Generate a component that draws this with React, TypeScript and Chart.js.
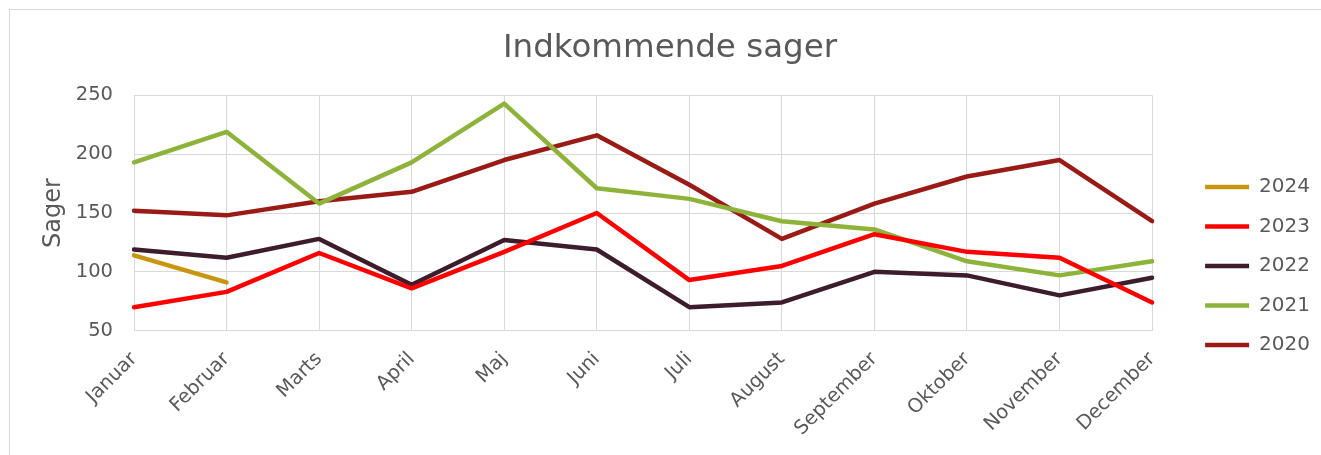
import React, { useEffect, useRef } from "react";
import { Chart, registerables } from "chart.js";

Chart.register(...registerables);

const months = [
  "Januar", "Februar", "Marts", "April", "Maj", "Juni",
  "Juli", "August", "September", "Oktober", "November", "December",
];

const series2024 = [114, 91];
const series2023 = [70, 83, 116, 86, 117, 150, 93, 105, 132, 117, 112, 74];
const series2022 = [119, 112, 128, 89, 127, 119, 70, 74, 100, 97, 80, 95];
const series2021 = [193, 219, 158, 193, 243, 171, 162, 143, 136, 109, 97, 109];
const series2020 = [152, 148, 160, 168, 195, 216, 174, 128, 158, 181, 195, 143];

const seriesNames = ["2024", "2023", "2022", "2021", "2020"];
const seriesValues = [series2024, series2023, series2022, series2021, series2020];
const seriesColors = ["#C8960C", "#FF0000", "#3D1C2C", "#8DB33A", "#9A1A16"];

const yTicks = [50, 100, 150, 200, 250];

const FONT = "DejaVu Sans";
const TEXT = "#595959";
const GRID = "#D9D9D9";

export default function App() {
  const ref = useRef<HTMLCanvasElement>(null);

  useEffect(() => {
    if (!ref.current) return;
    const chart = new Chart(ref.current, {
      type: "line",
      data: {
        labels: months,
        datasets: seriesNames.map((name, i) => ({
          label: name,
          data: seriesValues[i],
          borderColor: seriesColors[i],
          backgroundColor: seriesColors[i],
          borderWidth: 4.5,
          borderJoinStyle: "round",
          borderCapStyle: "round",
          pointRadius: 0,
          pointHoverRadius: 0,
          tension: 0,
          fill: false,
          yAxisID: "y",
        })),
      },
      options: {
        animation: false,
        responsive: true,
        maintainAspectRatio: false,
        layout: { padding: { left: 20, top: 10, right: 1, bottom: 0 } },
        plugins: {
          title: {
            display: true,
            text: "Indkommende sager",
            color: TEXT,
            font: { family: FONT, size: 32.5, weight: "normal" },
            padding: { top: 19.3, bottom: 27 },
          },
          legend: {
            position: "right",
            align: "start",
            title: {
              display: true,
              text: " ",
              font: { family: FONT, size: 10 },
              padding: { top: 135.5, bottom: 0 },
            },
            labels: {
              usePointStyle: true,
              pointStyle: "line",
              pointStyleWidth: 44,
              padding: 19.5,
              color: TEXT,
              font: { family: FONT, size: 20 },
            },
          },
          tooltip: { enabled: false },
        },
        scales: {
          x: {
            grid: { color: GRID, drawTicks: false, lineWidth: 1 },
            border: { color: GRID },
            ticks: {
              color: TEXT,
              font: { family: FONT, size: 19.5 },
              minRotation: 45,
              maxRotation: 45,
              padding: 17,
              autoSkip: false,
            },
            afterFit: (scale: any) => {
              scale.paddingLeft = 0;
              scale.paddingRight = 0;
              scale.height = 124.3;
            },
          },
          y: {
            min: 50,
            max: 250,
            afterBuildTicks: (scale: any) => {
              scale.ticks = yTicks.map((v) => ({ value: v }));
            },
            grid: { color: GRID, drawTicks: false, lineWidth: 1 },
            border: { color: GRID },
            ticks: {
              color: TEXT,
              font: { family: FONT, size: 19.5 },
              padding: 21,
            },
            title: {
              display: true,
              text: "Sager",
              color: TEXT,
              font: { family: FONT, size: 24 },
              padding: { top: 19.1, bottom: 7.9 },
            },
            afterFit: (scale: any) => {
              scale.width = 114;
            },
          },
          yR: {
            type: "linear",
            position: "right",
            display: true,
            grid: { display: false },
            border: { display: false },
            ticks: { display: false },
            afterFit: (scale: any) => {
              scale.width = 33.5;
            },
          },
        },
      },
    } as any);
    return () => chart.destroy();
  }, []);

  return (
    <>
      <div
        style={{
          position: "fixed",
          left: 9,
          top: 9,
          width: 1400,
          height: 500,
          border: "1px solid #D9D9D9",
          boxSizing: "border-box",
        }}
      />
      <div
        style={{
          position: "fixed",
          left: 0,
          top: 0,
          width: 1321,
          height: 455,
        }}
      >
        <canvas ref={ref} />
      </div>
    </>
  );
}
